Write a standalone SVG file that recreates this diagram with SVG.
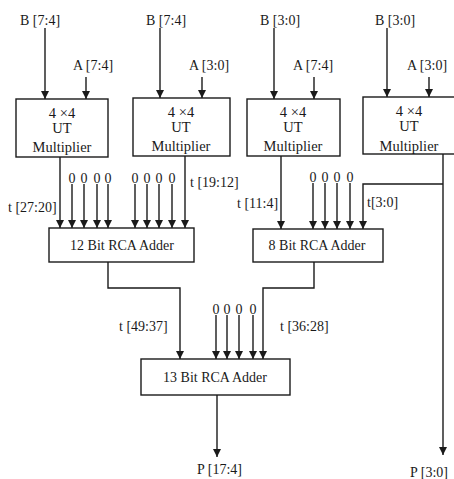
<svg xmlns="http://www.w3.org/2000/svg" width="454" height="479" viewBox="0 0 454 479">
<style>
.t text{font-size:14px;fill:#1a1a1a}
.t .m text{font-size:14.5px}
.c{text-anchor:middle}
.box{fill:#fff;stroke:#1a1a1a;stroke-width:1.4}
.w{fill:none;stroke:#1a1a1a;stroke-width:1.4}
.a{marker-end:url(#ah)}
</style>
<defs>
<marker id="ah" markerUnits="userSpaceOnUse" markerWidth="9" markerHeight="9" refX="8" refY="4.5" orient="auto">
<path d="M0,0.5 L8,4.5 L0,8.5 Z" fill="#1a1a1a"/>
</marker>
</defs>
<rect width="454" height="479" fill="#fff"/>
<g id="connectors">
<line class="w a" x1="45" y1="28" x2="45" y2="99"/>
<line class="w a" x1="86" y1="77" x2="86" y2="99"/>
<line class="w a" x1="160" y1="28" x2="160" y2="98"/>
<line class="w a" x1="202" y1="77" x2="202" y2="98"/>
<line class="w a" x1="274" y1="28" x2="274" y2="99"/>
<line class="w a" x1="314" y1="77" x2="314" y2="99"/>
<line class="w a" x1="387" y1="28" x2="387" y2="97"/>
<line class="w a" x1="429" y1="77" x2="429" y2="97"/>
<line class="w a" x1="60" y1="157" x2="60" y2="228"/>
<line class="w a" x1="72" y1="184" x2="72" y2="228"/>
<line class="w a" x1="84" y1="184" x2="84" y2="228"/>
<line class="w a" x1="97" y1="184" x2="97" y2="228"/>
<line class="w a" x1="108" y1="184" x2="108" y2="228"/>
<line class="w a" x1="135" y1="184" x2="135" y2="228"/>
<line class="w a" x1="147" y1="184" x2="147" y2="228"/>
<line class="w a" x1="159" y1="184" x2="159" y2="228"/>
<line class="w a" x1="172" y1="184" x2="172" y2="228"/>
<line class="w a" x1="185" y1="156" x2="185" y2="228"/>
<line class="w a" x1="281" y1="156" x2="281" y2="229"/>
<line class="w a" x1="313" y1="183" x2="313" y2="229"/>
<line class="w a" x1="325" y1="183" x2="325" y2="229"/>
<line class="w a" x1="337" y1="183" x2="337" y2="229"/>
<line class="w a" x1="350" y1="183" x2="350" y2="229"/>
<polyline class="w a" points="443,184 363,184 363,229"/>
<line class="w a" x1="443" y1="154" x2="443" y2="455"/>
<polyline class="w a" points="108,262 108,288 180,288 180,359"/>
<polyline class="w a" points="314,262 314,288 263,288 263,359"/>
<line class="w a" x1="216" y1="315" x2="216" y2="359"/>
<line class="w a" x1="227" y1="315" x2="227" y2="359"/>
<line class="w a" x1="239" y1="315" x2="239" y2="359"/>
<line class="w a" x1="253" y1="315" x2="253" y2="359"/>
<line class="w a" x1="217" y1="395" x2="217" y2="457"/>
</g>
<g class="t" font-family="Liberation Serif, DejaVu Serif, serif">
<g id="labels">
<text x="20" y="25">B [7:4]</text>
<text x="73" y="70">A [7:4]</text>
<text x="146" y="25">B [7:4]</text>
<text x="189" y="70">A [3:0]</text>
<text x="260" y="25">B [3:0]</text>
<text x="293" y="70">A [7:4]</text>
<text x="375" y="25">B [3:0]</text>
<text x="407" y="70">A [3:0]</text>
<text x="8" y="212">t [27:20]</text>
<text x="190" y="187">t [19:12]</text>
<text x="237" y="208">t [11:4]</text>
<text x="367" y="207">t[3:0]</text>
<text x="119" y="331">t [49:37]</text>
<text x="280" y="331">t [36:28]</text>
<text x="197" y="474">P [17:4]</text>
<text x="410" y="477">P [3:0]</text>
<g class="c">
<text x="72" y="183">0</text><text x="84" y="183">0</text><text x="97" y="183">0</text><text x="108" y="183">0</text>
<text x="135" y="183">0</text><text x="147" y="183">0</text><text x="159" y="183">0</text><text x="172" y="183">0</text>
<text x="313" y="182">0</text><text x="325" y="182">0</text><text x="337" y="182">0</text><text x="350" y="182">0</text>
<text x="216" y="314">0</text><text x="227" y="314">0</text><text x="239" y="314">0</text><text x="253" y="314">0</text>
</g>
</g>
<g id="mult1" class="m">
<rect class="box" x="16" y="99" width="92" height="58"/>
<text class="c" x="62" y="118">4 ×4</text><text class="c" x="62" y="133">UT</text><text class="c" x="62" y="152">Multiplier</text>
</g>
<g id="mult2" class="m">
<rect class="box" x="133" y="98" width="97" height="58"/>
<text class="c" x="181" y="117">4 ×4</text><text class="c" x="181" y="132">UT</text><text class="c" x="181" y="151">Multiplier</text>
</g>
<g id="mult3" class="m">
<rect class="box" x="247" y="99" width="93" height="57"/>
<text class="c" x="293" y="117">4 ×4</text><text class="c" x="293" y="132">UT</text><text class="c" x="293" y="151">Multiplier</text>
</g>
<g id="mult4" class="m">
<rect class="box" x="363" y="97" width="100" height="57"/>
<text class="c" x="409" y="116">4 ×4</text><text class="c" x="409" y="131">UT</text><text class="c" x="409" y="151">Multiplier</text>
</g>
<g id="add12">
<rect class="box" x="49" y="228" width="145" height="34"/>
<text class="c" x="122" y="250">12 Bit RCA Adder</text>
</g>
<g id="add8">
<rect class="box" x="253" y="229" width="130" height="33"/>
<text class="c" x="317" y="250">8 Bit RCA Adder</text>
</g>
<g id="add13">
<rect class="box" x="141" y="359" width="149" height="36"/>
<text class="c" x="215" y="382">13 Bit RCA Adder</text>
</g>
</g>
</svg>
